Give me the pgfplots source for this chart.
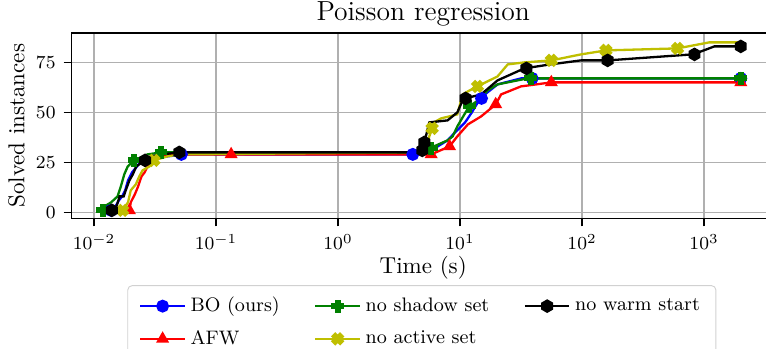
\documentclass[border=0pt]{standalone}
\usepackage{pgfplots}
\pgfplotsset{compat=1.18}
\usetikzlibrary{plotmarks}
\definecolor{mplblue}{rgb}{0,0,1}
\definecolor{mplred}{rgb}{1,0,0}
\definecolor{mplgreen}{rgb}{0,0.5,0}
\definecolor{mplyellow}{rgb}{0.75,0.75,0}
\definecolor{gridgray}{rgb}{0.69,0.69,0.69}
\pgfdeclareplotmark{Pfill}{%
  \pgfpathmoveto{\pgfqpoint{-0.36\pgfplotmarksize}{\pgfplotmarksize}}%
  \pgfpathlineto{\pgfqpoint{0.36\pgfplotmarksize}{\pgfplotmarksize}}%
  \pgfpathlineto{\pgfqpoint{0.36\pgfplotmarksize}{0.36\pgfplotmarksize}}%
  \pgfpathlineto{\pgfqpoint{\pgfplotmarksize}{0.36\pgfplotmarksize}}%
  \pgfpathlineto{\pgfqpoint{\pgfplotmarksize}{-0.36\pgfplotmarksize}}%
  \pgfpathlineto{\pgfqpoint{0.36\pgfplotmarksize}{-0.36\pgfplotmarksize}}%
  \pgfpathlineto{\pgfqpoint{0.36\pgfplotmarksize}{-\pgfplotmarksize}}%
  \pgfpathlineto{\pgfqpoint{-0.36\pgfplotmarksize}{-\pgfplotmarksize}}%
  \pgfpathlineto{\pgfqpoint{-0.36\pgfplotmarksize}{-0.36\pgfplotmarksize}}%
  \pgfpathlineto{\pgfqpoint{-\pgfplotmarksize}{-0.36\pgfplotmarksize}}%
  \pgfpathlineto{\pgfqpoint{-\pgfplotmarksize}{0.36\pgfplotmarksize}}%
  \pgfpathlineto{\pgfqpoint{-0.36\pgfplotmarksize}{0.36\pgfplotmarksize}}%
  \pgfpathclose\pgfusepathqfillstroke}
\pgfdeclareplotmark{Xfill}{%
  \pgftransformrotate{45}%
  \pgfpathmoveto{\pgfqpoint{-0.36\pgfplotmarksize}{\pgfplotmarksize}}%
  \pgfpathlineto{\pgfqpoint{0.36\pgfplotmarksize}{\pgfplotmarksize}}%
  \pgfpathlineto{\pgfqpoint{0.36\pgfplotmarksize}{0.36\pgfplotmarksize}}%
  \pgfpathlineto{\pgfqpoint{\pgfplotmarksize}{0.36\pgfplotmarksize}}%
  \pgfpathlineto{\pgfqpoint{\pgfplotmarksize}{-0.36\pgfplotmarksize}}%
  \pgfpathlineto{\pgfqpoint{0.36\pgfplotmarksize}{-0.36\pgfplotmarksize}}%
  \pgfpathlineto{\pgfqpoint{0.36\pgfplotmarksize}{-\pgfplotmarksize}}%
  \pgfpathlineto{\pgfqpoint{-0.36\pgfplotmarksize}{-\pgfplotmarksize}}%
  \pgfpathlineto{\pgfqpoint{-0.36\pgfplotmarksize}{-0.36\pgfplotmarksize}}%
  \pgfpathlineto{\pgfqpoint{-\pgfplotmarksize}{-0.36\pgfplotmarksize}}%
  \pgfpathlineto{\pgfqpoint{-\pgfplotmarksize}{0.36\pgfplotmarksize}}%
  \pgfpathlineto{\pgfqpoint{-0.36\pgfplotmarksize}{0.36\pgfplotmarksize}}%
  \pgfpathclose\pgfusepathqfillstroke}
\pgfdeclareplotmark{hexa}{%
  \pgfpathmoveto{\pgfqpointpolar{90}{1.05\pgfplotmarksize}}%
  \pgfpathlineto{\pgfqpointpolar{150}{1.05\pgfplotmarksize}}%
  \pgfpathlineto{\pgfqpointpolar{210}{1.05\pgfplotmarksize}}%
  \pgfpathlineto{\pgfqpointpolar{270}{1.05\pgfplotmarksize}}%
  \pgfpathlineto{\pgfqpointpolar{330}{1.05\pgfplotmarksize}}%
  \pgfpathlineto{\pgfqpointpolar{30}{1.05\pgfplotmarksize}}%
  \pgfpathclose\pgfusepathqfillstroke}
\begin{document}
\begin{tikzpicture}
\begin{axis}[
  name=ax,
  scale only axis,
  width=305.7pt, height=80.6pt,
  xmode=log, log basis x=10,
  xmin=0.006561, xmax=3800,
  ymin=-3, ymax=89.7,
  xtick={0.01,0.1,1,10,100,1000},
  ytick={0,25,50,75},
  tick align=outside,
  xtick pos=bottom, ytick pos=left,
  major tick length=3.5pt, minor tick length=2pt,
  every tick/.style={black, line width=0.5pt},
  axis line style={line width=0.55pt},
  grid=major,
  major grid style={gridgray, line width=0.55pt},
  minor grid style={draw=none},
  tick label style={font=\fontsize{8.5}{10}\selectfont},
  label style={font=\fontsize{10}{12}\selectfont},
  xlabel={Time (s)},
  ylabel={Solved instances},
  xlabel style={yshift=4pt},
  ylabel style={yshift=-2pt},
  every axis plot/.append style={line width=1pt},
  mark size=2.3pt,
  legend columns=3,
  legend cell align=left,
  legend style={at={(0.498,-0.36)}, anchor=north, draw=black!18, rounded corners=2pt,
    font=\fontsize{8.5}{10}\selectfont,
    /tikz/every even column/.append style={column sep=13pt},
    /tikz/column 4/.append style={column sep=18pt},
    row sep=2.5pt, inner xsep=5pt, inner ysep=3pt},
  legend image code/.code={\draw[mark repeat=2,mark phase=2] plot coordinates {(0cm,0cm) (0.34cm,0cm) (0.68cm,0cm)};},
]
% legend images in row order
\addlegendimage{mplblue, line width=1pt, mark=*, mark options={solid}}
\addlegendentry{BO (ours)}
\addlegendimage{mplgreen, line width=1pt, mark=Pfill, mark options={solid}}
\addlegendentry{no shadow set}
\addlegendimage{black, line width=1pt, mark=hexa, mark options={solid}}
\addlegendentry{no warm start}
\addlegendimage{mplred, line width=1pt, mark=triangle*, mark options={solid}}
\addlegendentry{AFW}
\addlegendimage{mplyellow, line width=1pt, mark=Xfill, mark options={solid}}
\addlegendentry{no active set}

% BO (ours)
\addplot[mplblue, no marks, forget plot] coordinates {
(0.0138,1) (0.0150,3) (0.0160,6) (0.0170,8) (0.0180,11) (0.0190,16) (0.0205,20)
(0.0225,23) (0.0245,26) (0.030,27) (0.040,28) (0.055,29) (4.1,29) (5.8,31)
(7.9,36) (9.1,40) (11.0,45) (12.5,50) (14.0,55) (16.0,59) (20.3,64) (31.6,67) (2000,67)};
\addplot[mplblue, only marks, mark=*, forget plot] coordinates {
(0.0138,1) (0.052,29) (4.1,29) (15.0,57) (39,67) (2000,67)};

% AFW
\addplot[mplred, no marks, forget plot] coordinates {
(0.0188,0) (0.0195,1) (0.0200,5) (0.0216,9) (0.0230,13) (0.0245,18) (0.0260,20)
(0.0275,23) (0.0290,25) (0.031,27) (0.033,28) (0.040,29) (5.8,29) (8.2,33)
(9.5,38) (11.6,44) (14.9,48) (19.6,54) (21.7,59) (31.6,63) (56,65) (2000,65)};
\addplot[mplred, only marks, mark=triangle*, forget plot] coordinates {
(0.0195,1) (0.133,29) (5.8,29) (8.2,33) (19.6,54) (56,65) (2000,65)};

% no shadow set
\addplot[mplgreen, no marks, forget plot] coordinates {
(0.0118,1) (0.0122,3) (0.0138,5) (0.0156,8) (0.0166,13) (0.0177,19) (0.0189,23)
(0.0214,26) (0.0275,29) (0.0354,30) (5.1,30) (5.6,32) (7.9,36) (8.7,38)
(9.5,43) (11.1,50) (11.9,53) (14.9,57) (16.8,61) (20.3,64) (35.8,67) (2000,67)};
\addplot[mplgreen, only marks, mark=Pfill, forget plot] coordinates {
(0.0118,1) (0.0214,26) (0.0354,30) (5.8,32) (11.9,53) (38,67) (2000,67)};

% no active set
\addplot[mplyellow, no marks, forget plot] coordinates {
(0.0172,1) (0.0190,5) (0.0200,11) (0.0220,14) (0.0235,18) (0.0250,21) (0.0285,23)
(0.031,26) (0.040,28) (0.050,29) (5.0,30) (5.2,31) (5.6,38) (5.9,42) (6.1,45)
(7.0,47) (9.5,49) (10.5,59) (12.0,61) (13.9,63) (20.3,68) (24.6,74) (33.6,75)
(56,76) (98,79) (157,81) (606,82) (1100,85) (2000,85)};
\addplot[mplyellow, only marks, mark=Xfill, forget plot] coordinates {
(0.0172,1) (0.031,26) (5.9,42) (13.9,63) (56,76) (157,81) (606,82)};

% no warm start
\addplot[black, no marks, forget plot] coordinates {
(0.0140,1) (0.0153,3) (0.0162,8) (0.0175,8) (0.0182,11) (0.0195,16) (0.0208,19)
(0.0222,23) (0.0262,26) (0.029,28) (0.036,29) (0.050,30) (4.6,30) (4.9,31) (5.1,35)
(5.6,45) (7.9,46) (9.5,50) (10.5,56) (11.1,57) (14.9,59) (20.3,66) (33.6,72)
(55,74) (98,76) (162,76) (800,79) (900,80) (1215,83) (2000,83)};
\addplot[black, only marks, mark=hexa, forget plot] coordinates {
(0.0140,1) (0.0262,26) (0.050,30) (4.9,31) (5.1,35) (11.1,57) (35,72) (162,76) (835,79) (2000,83)};
\end{axis}
\node[font=\fontsize{12}{14}\selectfont, anchor=base] at ([yshift=5.5pt]ax.north) {Poisson regression};
\pgfresetboundingbox
\path[use as bounding box] ([xshift=-31.17pt,yshift=14.35pt]ax.north west) rectangle ++(333.04pt,-151.74pt);
\end{tikzpicture}
\end{document}
